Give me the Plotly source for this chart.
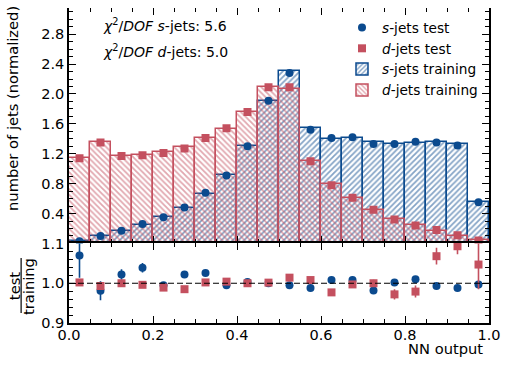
import plotly.graph_objects as go

# ---------------- data ----------------
bin_centers = [0.025, 0.075, 0.125, 0.175, 0.225, 0.275, 0.325, 0.375, 0.425, 0.475,
               0.525, 0.575, 0.625, 0.675, 0.725, 0.775, 0.825, 0.875, 0.925, 0.975]
bin_width = 0.05

s_train = [0.03, 0.10, 0.165, 0.25, 0.35, 0.47, 0.66, 0.91, 1.30, 1.91,
           2.31, 1.54, 1.40, 1.41, 1.36, 1.33, 1.35, 1.36, 1.33, 0.55]
d_train = [1.14, 1.36, 1.17, 1.18, 1.22, 1.29, 1.41, 1.53, 1.76, 2.09,
           2.06, 1.10, 0.80, 0.61, 0.45, 0.33, 0.245, 0.17, 0.10, 0.04]

s_test = [0.03, 0.10, 0.17, 0.26, 0.35, 0.48, 0.68, 0.91, 1.30, 1.91,
          2.28, 1.52, 1.41, 1.42, 1.33, 1.33, 1.36, 1.35, 1.31, 0.55]
d_test = [1.14, 1.35, 1.17, 1.18, 1.21, 1.27, 1.41, 1.54, 1.76, 2.09,
          2.09, 1.10, 0.78, 0.61, 0.45, 0.32, 0.24, 0.18, 0.11, 0.04]
s_test_err = [0.02, 0.003, 0.003, 0.004, 0.004, 0.005, 0.006, 0.007, 0.008, 0.01,
              0.011, 0.009, 0.008, 0.008, 0.008, 0.008, 0.008, 0.008, 0.008, 0.005]
d_test_err = [0.008, 0.009, 0.008, 0.008, 0.008, 0.008, 0.009, 0.009, 0.01, 0.011,
              0.011, 0.008, 0.007, 0.006, 0.005, 0.004, 0.004, 0.004, 0.003, 0.003]

s_ratio = [1.070, 0.981, 1.022, 1.039, 0.995, 1.022, 1.026, 0.995, 1.003, 1.000,
           0.995, 0.988, 1.008, 1.008, 0.982, 1.002, 1.010, 0.993, 0.988, 0.997]
s_ratio_err = [0.056, 0.024, 0.013, 0.012, 0.006, 0.007, 0.006, 0.005, 0.004, 0.004,
               0.004, 0.004, 0.004, 0.004, 0.004, 0.004, 0.004, 0.004, 0.004, 0.006]
d_ratio = [1.002, 0.993, 1.000, 0.996, 0.989, 0.985, 1.002, 1.004, 1.000, 1.0015,
           1.014, 1.008, 0.977, 0.997, 1.000, 0.972, 0.979, 1.068, 1.093, 1.047]
d_ratio_err = [0.004, 0.006, 0.004, 0.004, 0.004, 0.004, 0.004, 0.004, 0.004, 0.004,
               0.004, 0.005, 0.006, 0.007, 0.009, 0.013, 0.015, 0.021, 0.02, 0.062]

chi2_s = 5.6
chi2_d = 5.0

top_ticks = [0.4, 0.8, 1.2, 1.6, 2.0, 2.4, 2.8]
ratio_ticks = [0.9, 1.0, 1.1]
x_ticks = [0.0, 0.2, 0.4, 0.6, 0.8, 1.0]

# ---------------- style ----------------
BLUE = "#0B4A8E"
RED = "#C4505F"
FONT = "DejaVu Sans"
TICK_SIZE = 14.5
LABEL_SIZE = 14.7

fig = go.Figure()

# training histograms (hatched)
fig.add_trace(go.Bar(
    x=bin_centers, y=s_train, width=bin_width, name="<i>s</i>-jets training",
    marker=dict(color="rgba(0,0,0,0)", line=dict(color=BLUE, width=1.5),
                pattern=dict(shape="/", fgcolor=BLUE, bgcolor="rgba(0,0,0,0)",
                             size=4, solidity=0.45)),
    legendrank=3, xaxis="x", yaxis="y"))
fig.add_trace(go.Bar(
    x=bin_centers, y=d_train, width=bin_width, name="<i>d</i>-jets training",
    marker=dict(color="rgba(0,0,0,0)", line=dict(color=RED, width=1.5),
                pattern=dict(shape="\\", fgcolor=RED, bgcolor="rgba(0,0,0,0)",
                             size=4, solidity=0.45)),
    legendrank=4, xaxis="x", yaxis="y"))

# test points
fig.add_trace(go.Scatter(
    x=bin_centers, y=s_test, mode="markers", name="<i>s</i>-jets test",
    marker=dict(symbol="circle", size=8, color=BLUE),
    error_y=dict(type="data", array=s_test_err, color=BLUE, thickness=1.6, width=0),
    legendrank=1, xaxis="x", yaxis="y"))
fig.add_trace(go.Scatter(
    x=bin_centers, y=d_test, mode="markers", name="<i>d</i>-jets test",
    marker=dict(symbol="square", size=8, color=RED),
    error_y=dict(type="data", array=d_test_err, color=RED, thickness=1.6, width=0),
    legendrank=2, xaxis="x", yaxis="y"))

# ratio panel
fig.add_trace(go.Scatter(
    x=bin_centers, y=s_ratio, mode="markers", showlegend=False,
    marker=dict(symbol="circle", size=8, color=BLUE),
    error_y=dict(type="data", array=s_ratio_err, color=BLUE, thickness=1.6, width=0),
    xaxis="x2", yaxis="y2", cliponaxis=False))
fig.add_trace(go.Scatter(
    x=bin_centers, y=d_ratio, mode="markers", showlegend=False,
    marker=dict(symbol="square", size=8, color=RED),
    error_y=dict(type="data", array=d_ratio_err, color=RED, thickness=1.6, width=0),
    xaxis="x2", yaxis="y2", cliponaxis=False))

TOP_DOM = [0.2525, 1.0]
BOT_DOM = [0.0, 0.2525]

axis_common = dict(showline=True, linecolor="black", linewidth=1.5, mirror="ticks",
                   ticks="inside", ticklen=7, tickwidth=1.2, tickcolor="black",
                   showgrid=False, zeroline=False, automargin=False,
                   tickfont=dict(family=FONT, size=TICK_SIZE, color="black"))
top_x_common = dict(axis_common)
top_x_common["showline"] = False

fig.update_layout(
    width=509, height=366,
    margin=dict(l=69, r=20, t=8, b=43, autoexpand=False),
    paper_bgcolor="white", plot_bgcolor="white",
    barmode="overlay", bargap=0,
    font=dict(family=FONT, size=14, color="black"),
    xaxis=dict(range=[0, 1], domain=[0, 1], anchor="y", tickvals=x_ticks,
               showticklabels=False,
               minor=dict(dtick=0.05, tick0=0, ticks="inside", ticklen=4, tickcolor="black"),
               **top_x_common),
    yaxis=dict(range=[0, 3.15], domain=TOP_DOM, anchor="x", tickvals=top_ticks,
               ticktext=[f"{v:.1f}" for v in top_ticks],
               minor=dict(dtick=0.1, tick0=0, ticks="inside", ticklen=4, tickcolor="black"),
               **axis_common),
    xaxis2=dict(range=[0, 1], domain=[0, 1], anchor="y2", tickvals=x_ticks,
                ticktext=[f"{v:.1f}" for v in x_ticks], ticklabelstandoff=-2,
                minor=dict(dtick=0.05, tick0=0, ticks="inside", ticklen=4, tickcolor="black"),
                **axis_common),
    yaxis2=dict(range=[0.9, 1.1], domain=BOT_DOM, anchor="x2", tickvals=ratio_ticks,
                ticktext=[f"{v:.1f}" for v in ratio_ticks],
                minor=dict(dtick=0.02, tick0=0.9, ticks="inside", ticklen=4, tickcolor="black"),
                **axis_common),
    legend=dict(x=0.65, y=0.987, xanchor="left", yanchor="top",
                bgcolor="rgba(0,0,0,0)", font=dict(family=FONT, size=13.7),
                traceorder="normal", tracegroupgap=0, itemwidth=30),
    showlegend=True,
)

# reference line at ratio 1
fig.add_shape(type="line", xref="x2 domain", yref="y2", x0=0, x1=1, y0=1.0, y1=1.0,
              line=dict(color="black", width=1.2, dash="6px,3px"))

# chi2 text
fig.add_annotation(text=f"<i>χ</i><sup>2</sup>/<i>DOF</i> <i>s</i>-jets: {chi2_s}",
                   xref="paper", yref="paper", x=0.075, y=0.945, xanchor="left",
                   yanchor="middle", showarrow=False, font=dict(family=FONT, size=14))
fig.add_annotation(text=f"<i>χ</i><sup>2</sup>/<i>DOF</i> <i>d</i>-jets: {chi2_d}",
                   xref="paper", yref="paper", x=0.075, y=0.865, xanchor="left",
                   yanchor="middle", showarrow=False, font=dict(family=FONT, size=14))

# axis titles
fig.add_annotation(text="number of jets (normalized)", xref="paper", yref="paper",
                   x=-0.133, y=0.68, textangle=-90, showarrow=False,
                   xanchor="center", yanchor="middle", font=dict(family=FONT, size=LABEL_SIZE))
fig.add_annotation(text="NN output", xref="paper", yref="paper", x=0.99, y=-0.08,
                   xanchor="right", yanchor="middle", showarrow=False,
                   font=dict(family=FONT, size=LABEL_SIZE))
fig.add_annotation(text="test", xref="paper", yref="paper", x=-0.131, y=0.117,
                   textangle=-90, showarrow=False, xanchor="center", yanchor="middle",
                   font=dict(family=FONT, size=LABEL_SIZE))
fig.add_annotation(text="training", xref="paper", yref="paper", x=-0.098, y=0.117,
                   textangle=-90, showarrow=False, xanchor="center", yanchor="middle",
                   font=dict(family=FONT, size=LABEL_SIZE))
fig.add_shape(type="line", xref="paper", yref="paper", x0=-0.114, x1=-0.114,
              y0=0.032, y1=0.206, line=dict(color="black", width=1.2))

fig.write_html("out.html", config={"displayModeBar": False},
               post_script="document.body.style.margin='0';document.body.style.padding='0';")
